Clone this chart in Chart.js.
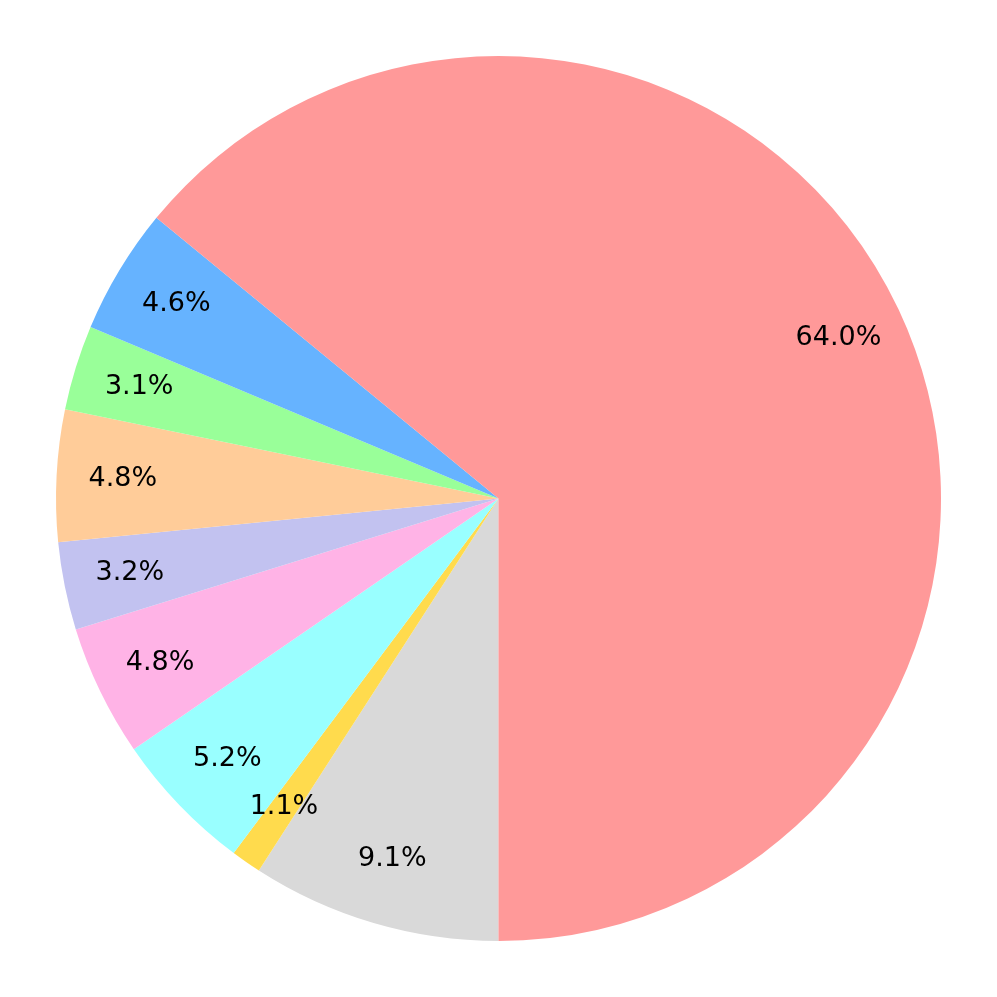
<!DOCTYPE html>
<html>
<head>
<meta charset="utf-8">
<script src="https://cdn.jsdelivr.net/npm/chart.js@4"></script>
<style>
  html, body { margin: 0; padding: 0; background: #fff; }
  #wrap { width: 997px; height: 997px; }
</style>
</head>
<body>
<div id="wrap"><canvas id="pie-chart"></canvas></div>
<script>
// slices listed clockwise starting from the bottom (6 o'clock)
const sliceLabels = ['Grey', 'Yellow', 'Cyan', 'Pink', 'Lavender', 'Peach', 'Green', 'Blue', 'Red'];
const sliceValues = [9.1, 1.1, 5.2, 4.8, 3.2, 4.8, 3.1, 4.6, 64.0];
const sliceColors = ['#d9d9d9', '#ffdb4d', '#99ffff', '#ffb3e6', '#c2c2f0', '#ffcc99', '#99ff99', '#66b3ff', '#ff9999'];

// percentage labels at 0.85 of the radius, like matplotlib's pctdistance
const pctLabels = {
    id: 'pctLabels',
    afterDatasetsDraw(chart) {
        const ctx = chart.ctx;
        ctx.save();
        ctx.font = '27px "DejaVu Sans"';
        ctx.fillStyle = '#000';
        ctx.textAlign = 'center';
        ctx.textBaseline = 'middle';
        chart.getDatasetMeta(0).data.forEach((arc, i) => {
            const mid = (arc.startAngle + arc.endAngle) / 2;
            const r = arc.outerRadius * 0.85;
            const x = arc.x + Math.cos(mid) * r;
            const y = arc.y + Math.sin(mid) * r;
            ctx.fillText(sliceValues[i].toFixed(1) + '%', x, y);
        });
        ctx.restore();
    }
};

new Chart(document.getElementById('pie-chart').getContext('2d'), {
    type: 'pie',
    data: {
        labels: sliceLabels,
        datasets: [{
            data: sliceValues,
            backgroundColor: sliceColors,
            borderWidth: 0
        }]
    },
    options: {
        responsive: true,
        maintainAspectRatio: false,
        animation: false,
        rotation: 180,
        layout: { padding: 56 },
        plugins: {
            legend: { display: false },
            tooltip: { enabled: false }
        }
    },
    plugins: [pctLabels]
});
</script>
</body>
</html>
